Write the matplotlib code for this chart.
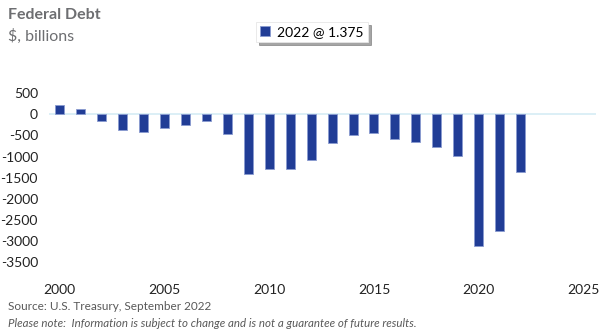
import matplotlib
matplotlib.use("Agg")
import matplotlib.pyplot as plt

plt.rcParams['font.family'] = ['Lato', 'DejaVu Sans']

# data (US federal surplus/deficit, $ billions)
years = list(range(2000, 2023))
deficit = [236, 128, -158, -378, -413, -318, -248, -161, -459, -1413, -1294,
           -1300, -1077, -680, -485, -442, -585, -665, -779, -984, -3132,
           -2775, -1375]
legend_label = "2022 @ 1.375"
yticks = [500, 0, -500, -1000, -1500, -2000, -2500, -3000, -3500]
xticks = [2000, 2005, 2010, 2015, 2020, 2025]

bar_color = '#213d96'
grey = '#6d6e71'

fig = plt.figure(figsize=(6, 3.36), dpi=100)
ax = fig.add_axes([0.0817, 0.196, 0.912, 0.551])

ax.bar(years, deficit, width=0.43, color=bar_color, edgecolor='#8a9bd0',
       linewidth=0.6, label=legend_label, zorder=3)
ax.axhline(0, color='#d6ecf5', linewidth=1.2, zorder=1)

ax.set_xlim(1999.5, 2025.6)
ax.set_ylim(-3700, 700)
ax.set_yticks(yticks)
ax.set_yticklabels([str(t) for t in yticks])
ax.set_xticks(xticks)
ax.tick_params(axis='both', length=0, labelsize=10, colors='#222222')
ax.tick_params(axis='y', pad=8)
ax.tick_params(axis='x', pad=10)
for s in ax.spines.values():
    s.set_visible(False)

# titles
fig.text(0.013, 0.955, "Federal Debt", fontsize=11.5, fontweight='bold',
         color=grey, ha='left', va='center')
fig.text(0.013, 0.893, "$, billions", fontsize=11.5, color=grey,
         ha='left', va='center')

# legend
leg = ax.legend(loc='center', bbox_to_anchor=(0.52, 0.905),
                bbox_transform=fig.transFigure, frameon=True, shadow=True,
                fancybox=False, fontsize=10, handlelength=0.7,
                handleheight=0.7, handletextpad=0.5, borderpad=0.3)
leg.get_frame().set_edgecolor('#e6e6e6')
leg.get_frame().set_linewidth(0.6)

# footnotes
fig.text(0.013, 0.088, "Source: U.S. Treasury, September 2022", fontsize=8.5,
         color='#595959', ha='left', va='center')
fig.text(0.013, 0.038, "Please note:  Information is subject to change and is "
         "not a guarantee of future results.", fontsize=8.3, style='italic',
         color='#595959', ha='left', va='center')

fig.savefig('out.png', dpi=100)
